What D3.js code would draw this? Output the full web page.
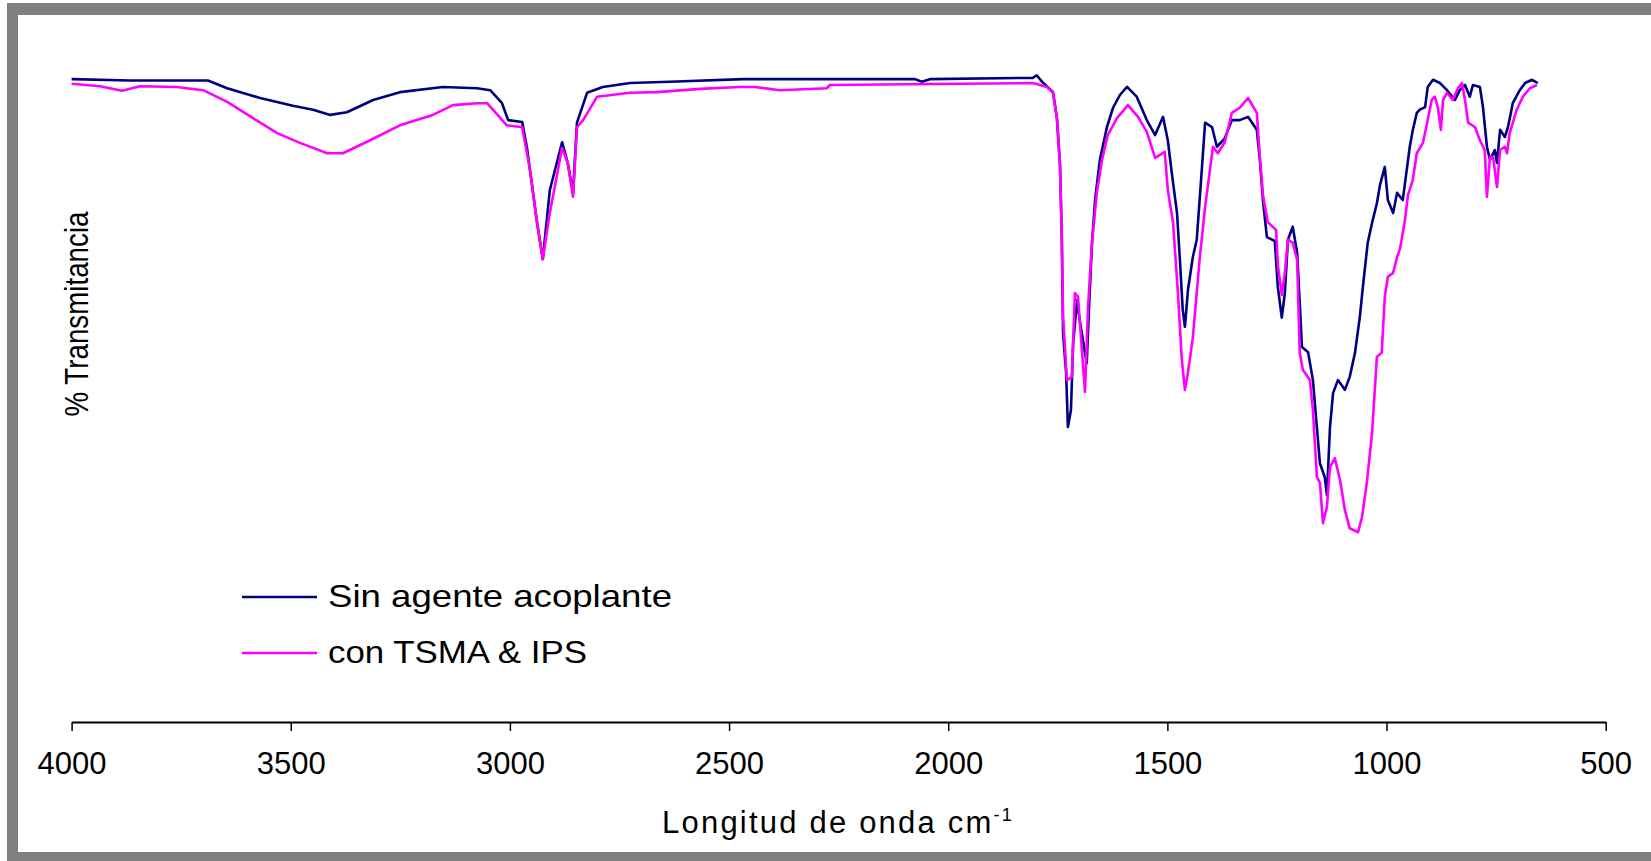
<!DOCTYPE html>
<html>
<head>
<meta charset="utf-8">
<script src="https://cdn.jsdelivr.net/npm/d3@7/dist/d3.min.js"></script>
<style>
  html, body { margin: 0; padding: 0; background: #ffffff; }
  svg { display: block; }
  text { font-family: "Liberation Sans", Arial, sans-serif; fill: #000; }
</style>
</head>
<body>
<svg id="chart" width="1651" height="861"></svg>
<script>
// FTIR spectra: % transmittance vs wavenumber (cm-1)
const sinAgenteWave = [4000,3867,3689,3645,3570,3495,3449,3410,3372,3312,3251,3153,3075,3045,3018,3004,2972,2961,2938,2925,2909,2881,2868,2856,2847,2824,2788,2726,2635,2468,2076,2060,2042,1807,1798,1786,1761,1752,1745,1741,1738,1731,1727,1720,1715,1706,1700,1684,1679,1672,1665,1654,1638,1624,1608,1592,1570,1547,1528,1510,1499,1490,1478,1471,1465,1460,1453,1442,1433,1421,1414,1398,1387,1369,1353,1335,1316,1296,1289,1282,1273,1255,1248,1239,1232,1225,1214,1204,1198,1193,1179,1168,1159,1152,1141,1136,1129,1122,1111,1095,1084,1072,1061,1054,1043,1033,1022,1015,1004,997,985,976,963,953,947,940,931,924,912,906,894,878,862,844,833,821,810,803,787,780,771,764,753,748,741,730,723,712,696,684,668,655];
const sinAgenteT = [98.9,98.7,98.7,97.5,96.0,94.8,94.2,93.4,93.8,95.7,96.9,97.7,97.5,97.2,95.2,92.6,92.3,88.3,76.8,71.2,81.8,89.2,86.0,81.4,92.2,96.8,97.7,98.3,98.5,98.9,98.9,98.5,98.9,99.1,99.5,98.5,96.9,92.9,85.7,74.9,59.8,53.7,45.4,48.0,58.3,64.9,61.8,55.2,63.4,73.7,80.3,86.5,91.5,94.5,96.5,97.7,96.2,92.6,90.3,93.1,89.5,84.5,78.3,70.6,63.4,60.8,66.5,71.5,74.2,85.4,92.2,91.5,88.5,89.8,92.6,92.6,93.1,91.1,86.5,80.3,74.6,74.0,66.9,62.2,66.0,74.2,76.2,72.2,64.5,57.7,56.9,52.6,45.4,39.8,37.7,34.9,45.4,50.6,52.6,51.1,53.1,56.8,62.3,66.9,73.7,76.8,79.8,82.6,85.4,80.3,78.3,81.4,80.3,85.4,88.5,91.1,93.7,94.2,94.6,97.7,98.8,98.3,97.2,95.7,97.2,98.0,96.2,98.0,97.7,94.6,88.5,86.5,88.0,86.0,91.1,90.0,91.5,95.2,97.2,98.3,98.8,98.3];

const conTsmaWave = [4000,3935,3885,3844,3760,3700,3645,3586,3531,3479,3417,3381,3319,3251,3176,3130,3075,3052,3007,2972,2954,2938,2925,2909,2886,2881,2868,2856,2847,2833,2801,2726,2665,2566,2475,2441,2384,2277,2270,1973,1807,1775,1761,1752,1745,1741,1738,1729,1718,1711,1704,1695,1688,1681,1672,1661,1649,1636,1615,1590,1567,1547,1528,1506,1499,1487,1476,1467,1460,1453,1442,1426,1414,1403,1396,1385,1369,1353,1335,1316,1296,1289,1282,1271,1252,1248,1239,1232,1225,1214,1204,1198,1191,1175,1168,1159,1152,1145,1136,1129,1118,1106,1095,1084,1065,1056,1045,1033,1022,1011,1004,997,985,976,969,958,951,940,931,917,906,897,890,883,876,871,862,849,837,828,821,814,798,787,776,771,764,757,748,741,730,725,719,703,689,673,657];
const conTsmaT = [98.2,97.8,97.1,97.8,97.7,97.2,95.4,92.9,90.6,89.1,87.5,87.5,89.5,91.8,93.4,94.9,95.2,95.2,91.8,91.5,84.9,76.8,71.2,78.3,86.5,88.3,86.0,80.8,91.5,92.6,96.2,96.8,96.9,97.4,97.7,97.7,97.2,97.5,98.0,98.2,98.3,97.7,96.8,92.9,85.7,74.9,62.3,52.6,53.1,66.0,65.4,57.2,50.8,63.8,73.8,81.4,86.5,90.3,92.9,94.9,93.1,90.8,86.8,87.7,81.8,76.8,66.0,55.7,51.1,53.8,59.1,71.5,79.2,84.9,88.5,87.5,89.2,93.7,94.5,96.0,93.7,86.9,81.1,76.9,75.7,70.3,65.7,69.1,74.2,73.7,71.1,56.8,54.2,52.6,48.0,37.7,36.8,30.6,33.1,39.2,40.6,37.2,32.6,29.8,29.2,31.5,36.8,44.5,56.2,56.8,65.4,68.5,69.1,71.5,72.9,77.2,81.1,83.4,87.5,89.1,92.6,95.7,96.2,94.6,91.1,95.7,96.8,95.7,97.5,98.3,95.7,92.2,91.5,89.5,88.0,80.8,86.9,86.9,82.3,88.0,88.5,87.5,90.6,94.2,96.2,97.5,98.0];

const xTicks = [4000, 3500, 3000, 2500, 2000, 1500, 1000, 500];
const seriesNames = ["Sin agente acoplante", "con TSMA & IPS"];
const seriesColors = ["#000080", "#ff00ff"];

const svg = d3.select("#chart");

// grey frame around the plot panel
svg.append("rect").attr("x", 7).attr("y", 3).attr("width", 1700).attr("height", 900).attr("fill", "#808080");
svg.append("rect").attr("x", 18).attr("y", 15).attr("width", 1700).attr("height", 837).attr("fill", "#ffffff");

const x = d3.scaleLinear().domain([4000, 500]).range([71.6, 1605.7]);
const y = d3.scaleLinear().domain([0, 100]).range([722, 72]);

// x axis
const xAxis = d3.axisBottom(x).tickValues(xTicks).tickFormat(d3.format("d")).tickSize(9).tickSizeOuter(0).tickPadding(21);
const gx = svg.append("g").attr("transform", "translate(0,722)").call(xAxis);
gx.select(".domain").attr("stroke", "#000").attr("stroke-width", 2);
gx.selectAll(".tick line").attr("stroke", "#000").attr("stroke-width", 1.5);
gx.selectAll(".tick text")
  .style("font-family", "'Liberation Sans', Arial, sans-serif")
  .style("font-size", "31px")
  .attr("fill", "#000");

// axis titles
const xt = svg.append("text")
  .attr("x", 838).attr("y", 833)
  .attr("text-anchor", "middle")
  .style("font-size", "31px")
  .style("letter-spacing", "2.2px");
xt.append("tspan").text("Longitud de onda cm");
xt.append("tspan").attr("dy", -12).style("font-size", "18px").text("-1");

svg.append("text")
  .attr("transform", "translate(88,314) rotate(-90)")
  .attr("text-anchor", "middle")
  .attr("textLength", 205)
  .attr("lengthAdjust", "spacingAndGlyphs")
  .style("font-size", "34px")
  .text("% Transmitancia");

// spectra
const waves = [sinAgenteWave, conTsmaWave];
const values = [sinAgenteT, conTsmaT];
const line = d3.line().x(d => x(d[0])).y(d => y(d[1]));

waves.forEach((w, i) => {
  const pts = w.map((wv, j) => [wv, values[i][j]]);
  svg.append("path")
    .datum(pts)
    .attr("d", line)
    .attr("fill", "none")
    .attr("stroke", seriesColors[i])
    .attr("stroke-width", 2.6)
    .attr("stroke-linejoin", "round");
});

// legend
const legendY = [597, 653];
const legendLen = [344, 259];
seriesNames.forEach((name, i) => {
  svg.append("line")
    .attr("x1", 242).attr("x2", 317)
    .attr("y1", legendY[i]).attr("y2", legendY[i])
    .attr("stroke", seriesColors[i]).attr("stroke-width", 2.6);
  svg.append("text")
    .attr("x", 328).attr("y", legendY[i] + 10)
    .attr("textLength", legendLen[i])
    .attr("lengthAdjust", "spacingAndGlyphs")
    .style("font-size", "32px")
    .text(name);
});
</script>
</body>
</html>
